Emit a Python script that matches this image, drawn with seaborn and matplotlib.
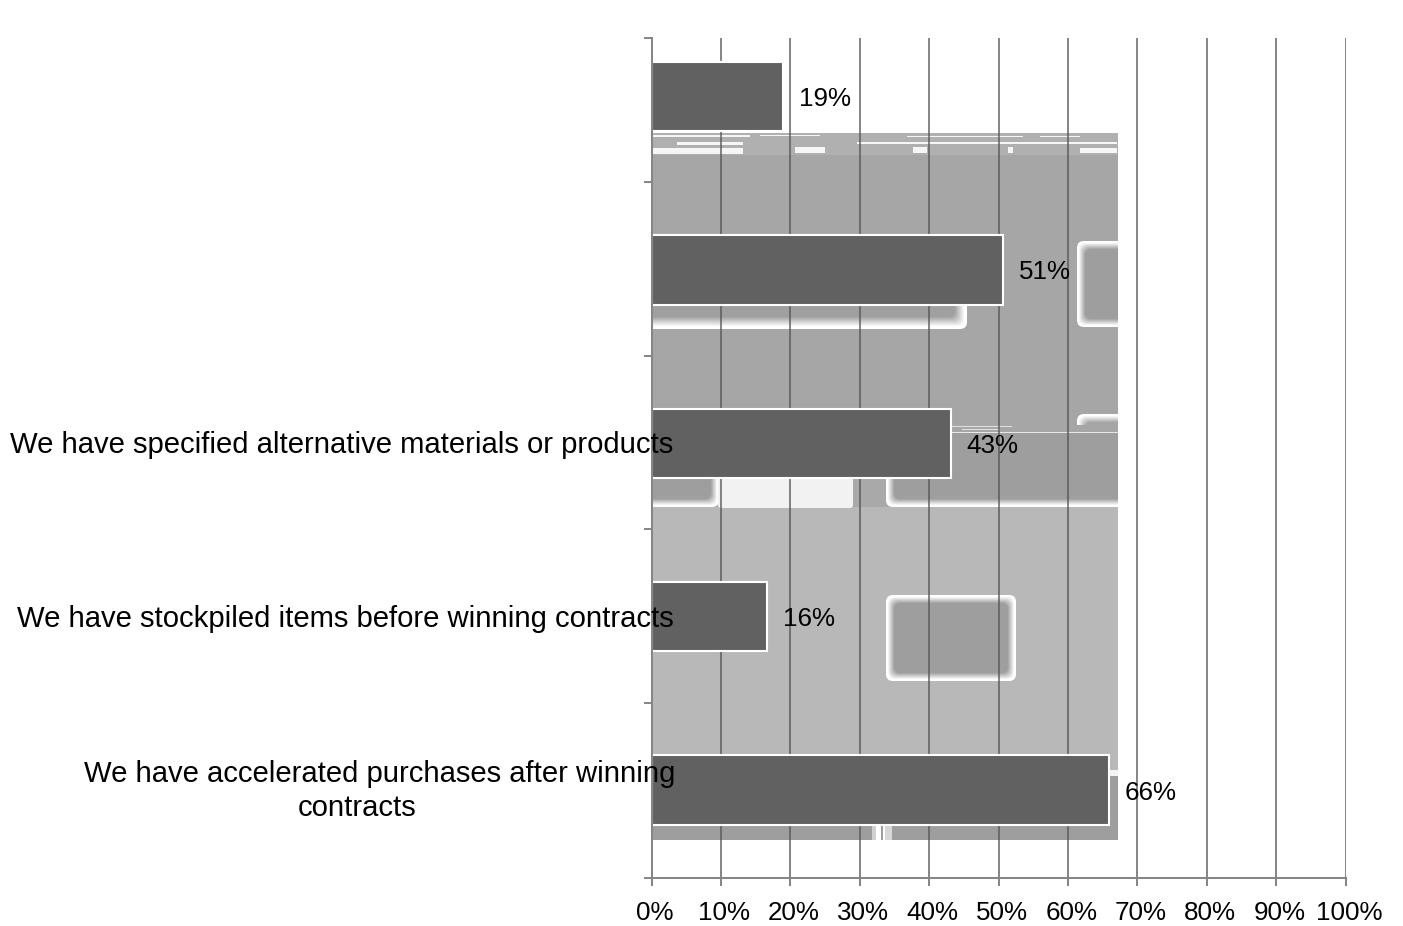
import matplotlib
matplotlib.use("Agg")
import matplotlib.pyplot as plt
import matplotlib.transforms as mtrans
from matplotlib.patches import FancyBboxPatch, Rectangle
import numpy as np
import pandas as pd
import seaborn as sns

# the two top labels are not visible in the picture
categories = [
    "",
    " ",
    "We have specified alternative materials or products",
    "We have stockpiled items before winning contracts",
    "We have accelerated purchases after winning\ncontracts",
]
values = [0.19, 0.507, 0.431, 0.166, 0.659]
value_labels = ["19%", "51%", "43%", "16%", "66%"]
x_ticks = [0.0, 0.1, 0.2, 0.3, 0.4, 0.5, 0.6, 0.7, 0.8, 0.9, 1.0]
x_tick_labels = ["0%", "10%", "20%", "30%", "40%", "50%", "60%", "70%", "80%", "90%", "100%"]

W, H = 1403, 926
FS = 18.7
FS_CAT = 21.1
BAR = "#616161"
AXIS = "#868686"

sns.set_theme(style="white")
plt.rcParams["font.family"] = ["Liberation Sans", "DejaVu Sans"]

fig = plt.figure(figsize=(W / 100, H / 100), dpi=100, facecolor="white")

# scan noise behind the plot, in pixel coordinates
bg = fig.add_axes([0, 0, 1, 1], zorder=0)
bg.set_xlim(0, W)
bg.set_ylim(H, 0)
bg.axis("off")
clip = Rectangle((651, 133), 467, 707, transform=bg.transData)


def rect(x0, y0, x1, y1, color):
    p = Rectangle((x0, y0), x1 - x0, y1 - y0, fc=color, ec="none")
    bg.add_patch(p)
    p.set_clip_path(clip)


def soft_box(x0, y0, x1, y1, fill, edge=8, box_clip=clip):
    # white rounded frame that fades into the fill
    white = np.array([1.0, 1.0, 1.0])
    target = np.array(matplotlib.colors.to_rgb(fill))
    for d in np.arange(0, edge + 0.25, 0.5):
        t = max(0.0, (d / edge - 0.2) / 0.8)
        p = FancyBboxPatch((x0 + d + 7, y0 + d + 7), x1 - x0 - 2 * d - 14, y1 - y0 - 2 * d - 14,
                           boxstyle="round,pad=7,rounding_size=7",
                           fc=white + (target - white) * t, ec="none")
        bg.add_patch(p)
        p.set_clip_path(box_clip)


rect(651, 507, 1118, 770, "#b8b8b8")
rect(651, 770, 1118, 840, "#9e9e9e")
rect(651, 432, 1118, 507, "#a9a9a9")
rect(1108, 770, 1118, 776, "#f4f4f4")
soft_box(620, 400, 719, 507, "#9e9e9e")
soft_box(886, 400, 1220, 507, "#9e9e9e")
rect(651, 155, 1118, 432, "#a6a6a6")
rect(651, 133, 1118, 155, "#b0b0b0")
soft_box(620, 270, 967, 329, "#a0a0a0", edge=12)
soft_box(1077, 241, 1220, 327, "#9e9e9e")
soft_box(1077, 414, 1220, 470, "#a6a6a6",
         box_clip=Rectangle((1077, 414), 41, 11, transform=bg.transData))
rect(950, 431.5, 1118, 433, "#e8e8e8")
rect(951, 426, 1012, 427, "#e0e0e0")
rect(962, 429, 1000, 430, "#e0e0e0")
soft_box(886, 595, 1016, 681, "#9e9e9e")
bg.add_patch(FancyBboxPatch((720, 470), 131, 36, boxstyle="round,pad=2,rounding_size=3", fc="#f2f2f2", ec="none"))
for x0, x1, c in [(872, 876, "#d0d0d0"), (876, 881, "#ffffff"), (883, 885, "#ffffff"), (885, 892, "#d8d8d8")]:
    rect(x0, 825, x1, 840, c)
for x0, y0, x1, y1 in [(652, 135, 750, 137), (677, 142, 743, 145), (857, 142, 1117, 144), (907, 135.5, 1023, 137),
                       (652, 148, 743, 154), (795, 147, 825, 153), (913, 147, 927, 153), (1008, 147, 1013, 153),
                       (1080, 148, 1117, 153), (760, 135, 820, 136), (1040, 136, 1080, 137)]:
    rect(x0, y0, x1, y1, "#f6f6f6")

# plot area: 0-100% spans px 651-1345, axis runs from y 38 to 878
ax = fig.add_axes([651.5 / W, (H - 878) / H, 694 / W, 840 / H], zorder=1)
ax.patch.set_alpha(0)

df = pd.DataFrame({"item": categories, "share": values})
sns.barplot(data=df, y="item", x="share", order=categories, orient="h", color=BAR, saturation=1,
            width=0.4, edgecolor="white", linewidth=1.5, ax=ax, zorder=3)

ax.set_xlim(0, 1)
ax.set_ylim(4.507, -0.337)
ax.set_xlabel("")
ax.set_ylabel("")
ax.set_axisbelow(True)

ax.grid(False)
for x in x_ticks[1:]:
    ax.axvline(x, color="#555555", alpha=0.7, lw=1.45, zorder=1)

ax.set_xticks(x_ticks)
ax.set_xticklabels(x_tick_labels, fontsize=FS, color="black")
ax.set_yticks([-0.337, 0.493, 1.495, 2.497, 3.499, 4.507])
ax.set_yticklabels([])
ax.tick_params(axis="both", which="major", left=True, bottom=True, length=6, width=1.45, color=AXIS)
ax.tick_params(axis="x", pad=10.5)
shift = mtrans.ScaledTranslation(3.5 / 100, 0, fig.dpi_scale_trans)
for lab in ax.get_xticklabels():
    lab.set_transform(lab.get_transform() + shift)

for s in ["top", "right"]:
    ax.spines[s].set_visible(False)
for s in ["left", "bottom"]:
    ax.spines[s].set_color(AXIS)
    ax.spines[s].set_linewidth(1.45)
    ax.spines[s].set_zorder(5)

# value labels sit 16 px right of each bar
for i, (v, lab) in enumerate(zip(values, value_labels)):
    ax.annotate(lab, (v, i), xytext=(11.5, -1.8), textcoords="offset points", ha="left", va="center",
                fontsize=FS, color="black", zorder=6)

# category labels run over the bars
px = lambda p: (p - 651) / 694
for i, lab in enumerate(categories):
    lines = lab.strip().split("\n")
    if not lines[0]:
        continue
    if len(lines) == 1:
        ax.text(px(673), i + 0.012, lines[0], ha="right", va="center", fontsize=FS_CAT, color="black", clip_on=False, zorder=6)
    else:
        ax.text(px(675), i - 0.094, lines[0], ha="right", va="center", fontsize=FS_CAT, color="black", clip_on=False, zorder=6)
        ax.text(px(357), i + 0.101, lines[1], ha="center", va="center", fontsize=FS_CAT, color="black", clip_on=False, zorder=6)

fig.savefig("out.png", dpi=100)
